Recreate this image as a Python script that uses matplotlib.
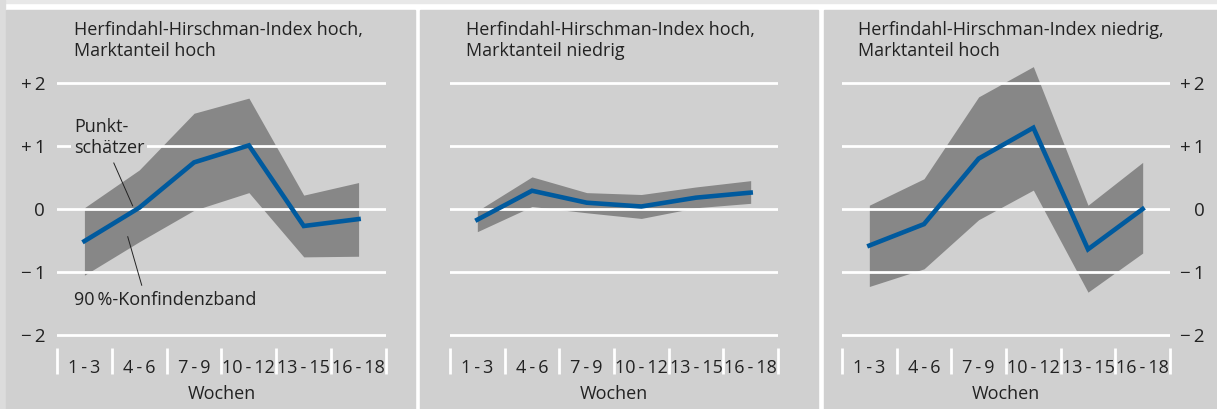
import matplotlib.pyplot as plt
from matplotlib.patches import Rectangle

plt.rcParams['font.family'] = ['Open Sans', 'DejaVu Sans']

# Daten (Punktschätzer und 90%-Konfidenzband)
wochen = ['1\u2009-\u20093', '4\u2009-\u20096', '7\u2009-\u20099',
          '10\u2009-\u200912', '13\u2009-\u200915', '16\u2009-\u200918']
titel = ['Herfindahl-Hirschman-Index hoch,\nMarktanteil hoch',
         'Herfindahl-Hirschman-Index hoch,\nMarktanteil niedrig',
         'Herfindahl-Hirschman-Index niedrig,\nMarktanteil hoch']

p1_punkt = [-0.51, 0.02, 0.74, 1.01, -0.27, -0.16]
p1_oben = [0.02, 0.62, 1.52, 1.76, 0.22, 0.42]
p1_unten = [-1.05, -0.52, -0.02, 0.26, -0.76, -0.75]

p2_punkt = [-0.17, 0.29, 0.10, 0.04, 0.18, 0.26]
p2_oben = [-0.03, 0.51, 0.26, 0.23, 0.35, 0.45]
p2_unten = [-0.36, 0.04, -0.06, -0.15, 0.02, 0.09]

p3_punkt = [-0.58, -0.24, 0.80, 1.29, -0.64, 0.0]
p3_oben = [0.06, 0.48, 1.78, 2.26, 0.06, 0.74]
p3_unten = [-1.23, -0.95, -0.17, 0.30, -1.32, -0.70]

yticks = [-2, -1, 0, 1, 2]
ylabels = ['\u2212\u20092', '\u2212\u20091', '0', '+\u20091', '+\u20092']

W, H = 1217, 409
panel_grau = '#d0d0d0'
band_grau = '#878787'
blau = '#005a9e'
schrift = '#222222'

fig = plt.figure(figsize=(W / 100, H / 100), dpi=100)
fig.patch.set_facecolor('white')

# Hintergrund: heller Rand und drei graue Felder
fig.patches.append(Rectangle((0, 1 - 3 / H), 1, 3 / H, transform=fig.transFigure,
                             color='#e8e8e8', zorder=-5))
fig.patches.append(Rectangle((0, 0), 5 / W, 1, transform=fig.transFigure,
                             color='#dcdcdc', zorder=-5))
for x0, x1 in [(6, 415), (420, 818), (824, 1217)]:
    fig.patches.append(Rectangle((x0 / W, 0), (x1 - x0) / W, 1 - 10 / H,
                                 transform=fig.transFigure, color=panel_grau, zorder=-5))

achsen_x = [(57, 386), (450, 778), (842, 1170)]
titel_x = [74, 466, 858]
daten = [(p1_punkt, p1_oben, p1_unten),
         (p2_punkt, p2_oben, p2_unten),
         (p3_punkt, p3_oben, p3_unten)]
top_px, bottom_px = 62, 348

x = list(range(len(wochen)))
for i in range(3):
    xl, xr = achsen_x[i]
    ax = fig.add_axes([xl / W, 1 - bottom_px / H, (xr - xl) / W, (bottom_px - top_px) / H])
    ax.set_facecolor('none')
    punkt, oben, unten = daten[i]

    ax.fill_between(x, unten, oben, color=band_grau, lw=0, zorder=1)
    for yv in yticks:
        ax.axhline(yv, color='white', lw=2, zorder=2)
    ax.plot(x, punkt, color=blau, lw=3.3, zorder=3, solid_joinstyle='miter')

    ax.set_xlim(-0.5, 5.5)
    ax.set_ylim((209 - bottom_px) / 63, (209 - top_px) / 63)
    for s in ax.spines.values():
        s.set_visible(False)

    ax.set_xticks(x, wochen)
    ax.set_xticks([v - 0.5 for v in range(7)], minor=True)
    ax.tick_params(axis='x', which='major', length=0, pad=8, labelsize=13, labelcolor=schrift)
    ax.tick_params(axis='x', which='minor', length=19, width=2, color='white', direction='out')
    ax.set_xlabel('Wochen', fontsize=13, labelpad=4, color=schrift)

    ax.set_yticks(yticks, ylabels)
    ax.tick_params(axis='y', length=0, labelsize=13.5, labelcolor=schrift)
    if i == 0:
        ax.tick_params(axis='y', pad=8.5)
    elif i == 1:
        ax.tick_params(axis='y', labelleft=False)
    else:
        ax.yaxis.tick_right()
        ax.tick_params(axis='y', pad=25, length=0)
        for lab in ax.get_yticklabels():
            lab.set_horizontalalignment('right')

    fig.text(titel_x[i] / W, 1 - 21 / H, titel[i], ha='left', va='top',
             fontsize=13, color=schrift, linespacing=1.25)

    if i == 0:
        ax.plot([0.536, 0.88], [0.73, 0.05], color=schrift, lw=0.7, zorder=4)
        ax.plot([0.79, 1.045], [-0.44, -1.21], color=schrift, lw=0.7, zorder=4)
        ax.text(-0.19, 1.14, 'Punkt-\nschätzer', ha='left', va='center', fontsize=13,
                color=schrift, linespacing=1.2, zorder=5,
                bbox=dict(facecolor=panel_grau, edgecolor='none', pad=2))
        ax.text(-0.19, -1.44, '90\u2009%-Konfindenzband', ha='left', va='center',
                fontsize=13, color=schrift, zorder=5)

fig.savefig('out.png', dpi=100, facecolor=fig.get_facecolor())
